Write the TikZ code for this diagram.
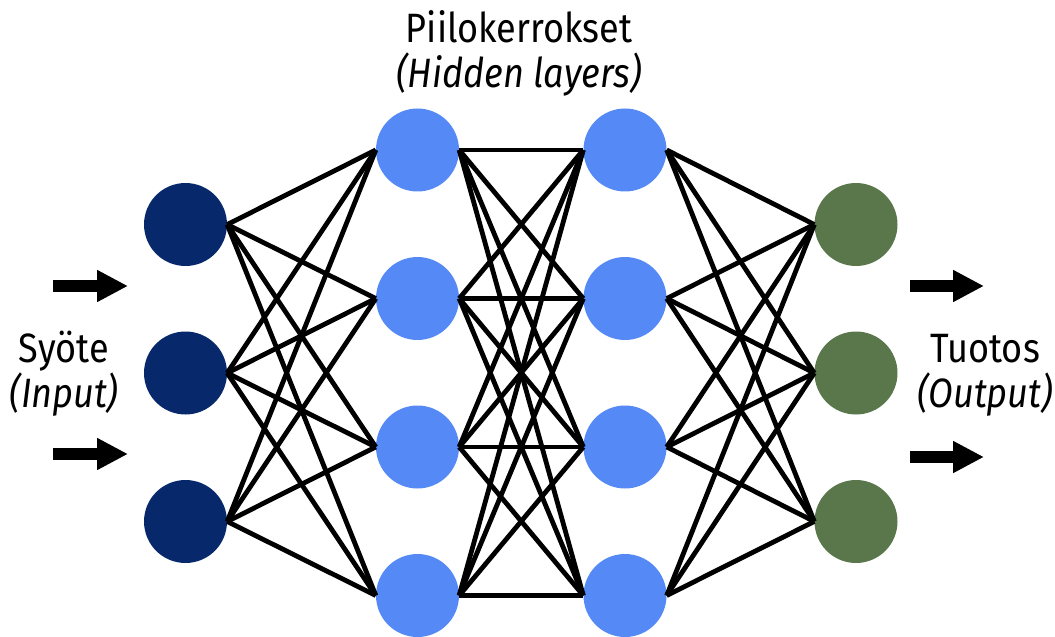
\documentclass[tikz,border=0pt]{standalone}
\usepackage{fontspec}
\setmainfont{Fira Sans}[FakeStretch=0.88]
\usetikzlibrary{arrows.meta}
\definecolor{inC}{RGB}{7,41,107}
\definecolor{hidC}{RGB}{85,137,246}
\definecolor{outC}{RGB}{90,119,75}
\begin{document}
\begin{tikzpicture}[x=1bp,y=-1bp,
  neuron/.style={circle,inner sep=0pt,minimum size=83bp,draw=none},
  link/.style={line width=4.8bp,black},
  bigarrow/.style={line width=12bp,black,-{Triangle[length=31bp,width=30bp]}},
  lab/.style={font=\fontsize{41bp}{45bp}\selectfont,anchor=base,inner sep=0pt}]
\useasboundingbox (0,0) rectangle (1055,637);
% input layer
\foreach \i/\y in {1/224.5,2/373,3/521.5}
  \node[neuron,fill=inC] (in\i) at (185.5,\y) {};
% hidden layers
\foreach \i/\y in {1/150,2/298.5,3/447,4/595.5}{
  \node[neuron,fill=hidC] (ha\i) at (417.5,\y) {};
  \node[neuron,fill=hidC] (hb\i) at (625,\y) {};
}
% output layer
\foreach \i/\y in {1/224.5,2/373,3/521.5}
  \node[neuron,fill=outC] (out\i) at (856,\y) {};
% connections
\foreach \a in {1,2,3}
  \foreach \b in {1,2,3,4}
    \draw[link] (in\a.east) -- (ha\b.west);
\foreach \a in {1,2,3,4}
  \foreach \b in {1,2,3,4}
    \draw[link] (ha\a.east) -- (hb\b.west);
\foreach \a in {1,2,3,4}
  \foreach \b in {1,2,3}
    \draw[link] (hb\a.east) -- (out\b.west);
% arrows
\coordinate (ia1s) at (53,286);  \coordinate (ia1e) at (128,286);
\coordinate (ia2s) at (53,454);  \coordinate (ia2e) at (128,454);
\coordinate (oa1s) at (910,286); \coordinate (oa1e) at (984,286);
\coordinate (oa2s) at (910,457); \coordinate (oa2e) at (984,457);
\draw[bigarrow] (ia1s) -- (ia1e);
\draw[bigarrow] (ia2s) -- (ia2e);
\draw[bigarrow] (oa1s) -- (oa1e);
\draw[bigarrow] (oa2s) -- (oa2e);
% labels
\node[lab] (t1) at (519,43) {Piilokerrokset};
\node[lab] (t2) at (519,88) {\itshape (Hidden layers)};
\node[lab] (s1) at (64,362) {Syöte};
\node[lab] (s2) at (64,407) {\itshape (Input)};
\node[lab] (o1) at (985,362) {Tuotos};
\node[lab] (o2) at (985,407) {\itshape (Output)};
\end{tikzpicture}
\end{document}
